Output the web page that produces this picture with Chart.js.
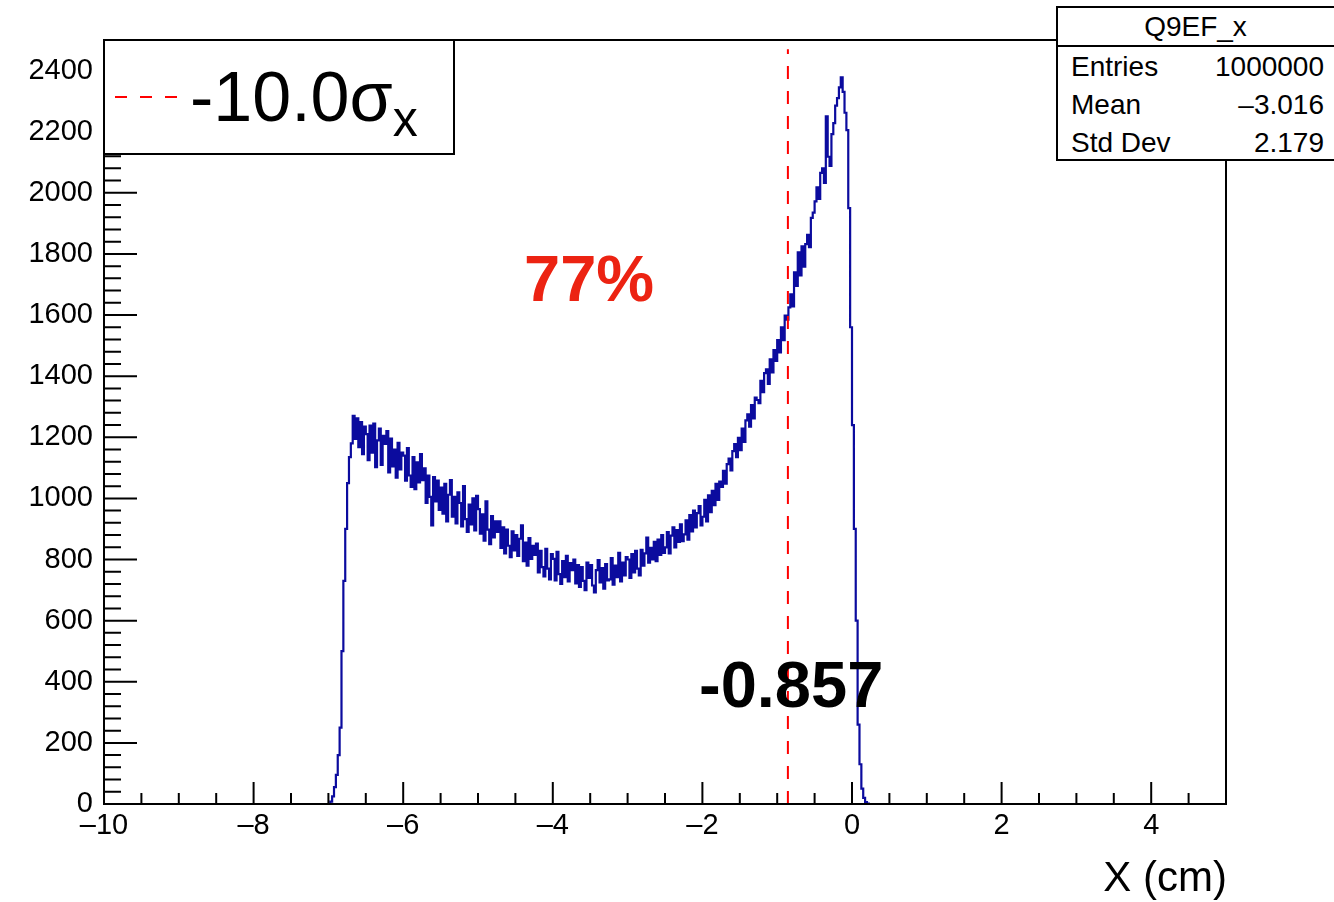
<!DOCTYPE html>
<html lang="en">
<head>
<meta charset="utf-8">
<title>Q9EF_x</title>
<script src="https://cdn.jsdelivr.net/npm/chart.js@4.4.0/dist/chart.umd.min.js"></script>
<style>
body{margin:0;background:#fff;overflow:hidden}
#wrap{position:relative;width:1334px;height:902px;overflow:hidden;font-family:"Liberation Sans",Arial,Helvetica,sans-serif;color:#000}
#chart{position:absolute;left:0;top:0}
.box{position:absolute;background:#fff;border:2px solid #000;box-sizing:border-box}
.t{position:absolute;line-height:1;white-space:nowrap}
#legend{left:103px;top:39px;width:352px;height:116px}
#legDash{position:absolute;left:115px;top:96px;width:64px;height:2px;
  background:repeating-linear-gradient(to right,#ff0000 0 12px,transparent 12px 25px)}
#legText{left:190px;top:62px;font-size:70px}
#legText .sub{font-size:50px;position:relative;top:15px}
#stats{left:1056px;top:6px;width:300px;height:155px}
#statsHead{position:absolute;left:1056px;top:45px;width:300px;height:2px;background:#000}
#pct{left:524px;top:246px;font-size:65px;font-weight:bold;color:#ec2312}
#cutLabel{left:699px;top:652px;font-size:65px;font-weight:bold}
#xTitle{right:107px;top:856px;font-size:42px}
</style>
</head>
<body>
<div id="wrap">
  <canvas id="chart" width="1334" height="902"></canvas>
  <div class="box" id="legend"></div>
  <div id="legDash"></div>
  <div class="t" id="legText"></div>
  <div class="box" id="stats"></div>
  <div id="statsHead"></div>
  <div class="t" id="pct">77%</div>
  <div class="t" id="cutLabel"></div>
  <div class="t" id="xTitle">X (cm)</div>
</div>

<script>
// histogram Q9EF_x : bins of 0.025 cm starting at -7.0 cm, one row = 0.25 cm
const binStart = -7.0;
const binWidth = 0.025;
const counts = [
     2,    8,   25,   55,   95,  160,  250,  500,  730,  900,
  1050, 1135, 1180, 1270, 1195, 1262, 1168, 1250, 1145, 1235,
  1210, 1125, 1238, 1150, 1245, 1102, 1190, 1228, 1110, 1205,
  1178, 1220, 1085, 1196, 1105, 1160, 1068, 1182, 1095, 1150,
  1140, 1058, 1165, 1075, 1038, 1135, 1030, 1118, 1052, 1145,
  1060, 1098,  985, 1075, 1005,  912, 1070,  990, 1058,  962,
  1035,  950, 1048,  925, 1012, 1060,  940, 1005,  918, 1020,
   985,  908, 1040,  932,  890,  980,  915, 1000,  895, 1008,
   965,  885,  948,  862,  990,  898,  850,  942,  872,  925,
   890,  925,  838,  905,  820,  898,  845,  808,  892,  830,
   880,  812,  868,  912,  795,  855,  780,  870,  802,  845,
   815,  852,  758,  828,  775,  745,  835,  770,  735,  818,
   802,  732,  825,  752,  720,  795,  742,  812,  728,  788,
   765,  800,  722,  782,  710,  775,  730,  700,  790,  740,
   782,  715,  692,  765,  798,  725,  772,  705,  785,  732,
   735,  805,  718,  780,  742,  822,  728,  790,  748,  808,
   800,  740,  818,  758,  828,  770,  748,  832,  780,  820,
   872,  790,  838,  800,  858,  795,  865,  815,  880,  822,
   840,  890,  820,  878,  905,  840,  896,  858,  915,  860,
   882,  928,  865,  945,  892,  960,  905,  952,  975,  912,
   940,  995,  925, 1010,  955, 1025,  978, 1048,  995, 1055,
  1038, 1090, 1048, 1112, 1130, 1092, 1155, 1178, 1135, 1198,
  1158, 1228, 1185, 1255, 1275, 1235, 1305, 1262, 1330, 1322,
  1312, 1385, 1348, 1410, 1422, 1375, 1455, 1412, 1485, 1450,
  1518, 1478, 1560, 1518, 1598, 1585, 1625, 1668, 1628, 1740,
  1695, 1805, 1730, 1825, 1758, 1832, 1862, 1822, 1918, 1935,
  1972, 2018, 1980, 2065, 2080, 2032, 2250, 2118, 2088, 2192,
  2228, 2285, 2310, 2345, 2378, 2330, 2262, 2205, 1950, 1560,
  1240,  900,  600,  260,  130,   50,   20,    6,    1,    0
];

// cut position and its height on the plot
const cutX = -0.857;
const cutTop = 2470;
const cutSigma = -10.0;

// stats box
const statTitle = 'Q9EF_x';
const statNames = ['Entries', 'Mean', 'Std Dev'];
const statValues = ['1000000', '\u20133.016', '2.179'];

const dash = s => String(s).replace('-', '\u2013');

const histPoints = counts.map((c, i) => ({ x: binStart + (i + 0.5) * binWidth, y: c }));

/* ROOT style frame: box + ticks pointing inwards */
const rootAxes = {
  id: 'rootAxes',
  afterDatasetsDraw(chart) {
    const { ctx, chartArea: a, scales: { x, y } } = chart;
    ctx.save();
    ctx.strokeStyle = '#000';
    ctx.lineWidth = 2;
    ctx.strokeRect(a.left, a.top, a.right - a.left, a.bottom - a.top);
    ctx.beginPath();
    for (let v = x.min; v <= x.max + 1e-9; v += 0.5) {
      const px = x.getPixelForValue(v);
      const len = Math.abs(v % 2) < 1e-9 ? 22 : 11;
      ctx.moveTo(px, a.bottom);
      ctx.lineTo(px, a.bottom - len);
    }
    for (let v = 0; v <= y.max; v += 40) {
      const py = y.getPixelForValue(v);
      const len = v % 200 === 0 ? 33 : 17;
      ctx.moveTo(a.left, py);
      ctx.lineTo(a.left + len, py);
    }
    ctx.stroke();
    ctx.restore();
  }
};

const tickFont = { family: '"Liberation Sans", Arial, Helvetica, sans-serif', size: 29 };

new Chart(document.getElementById('chart'), {
  type: 'line',
  data: {
    datasets: [
      {
        label: cutSigma.toFixed(1) + '\u03c3x',
        data: [{ x: cutX, y: 0 }, { x: cutX, y: cutTop }],
        borderColor: '#ff0000',
        borderWidth: 2,
        borderDash: [13, 12],
        pointRadius: 0
      },
      {
        label: statTitle,
        data: histPoints,
        borderColor: '#0b0b9e',
        borderWidth: 2.2,
        stepped: 'middle',
        pointRadius: 0
      }
    ]
  },
  options: {
    responsive: false,
    animation: false,
    devicePixelRatio: 1,
    layout: { padding: { top: 40, right: 108, left: 0, bottom: 0 } },
    plugins: { legend: { display: false }, tooltip: { enabled: false } },
    scales: {
      x: {
        type: 'linear', min: -10, max: 5,
        grid: { display: false, drawTicks: false },
        border: { display: false },
        ticks: {
          stepSize: 2, includeBounds: false, color: '#000', font: tickFont,
          padding: 5, maxRotation: 0,
          callback: v => dash(v)
        },
        afterFit: s => { s.height = 98; }
      },
      y: {
        min: 0, max: 2500,
        grid: { display: false, drawTicks: false },
        border: { display: false },
        ticks: {
          stepSize: 200, includeBounds: false, color: '#000', font: tickFont,
          padding: 11,
          callback: v => String(v)
        },
        afterFit: s => { s.width = 104; }
      }
    }
  },
  plugins: [rootAxes]
});

/* overlay texts: legend, stats box, annotations */
const legText = document.getElementById('legText');
legText.innerHTML = cutSigma.toFixed(1) + '\u03c3<span class="sub">x</span>';
document.getElementById('cutLabel').textContent = cutX.toFixed(3);

const wrap = document.getElementById('wrap');
const head = document.createElement('div');
head.className = 't';
head.style.cssText = 'left:1057px;width:277px;text-align:center;top:13px;font-size:28px';
head.textContent = statTitle;
wrap.appendChild(head);
statNames.forEach((name, i) => {
  const top = 53 + i * 38;
  const l = document.createElement('div');
  l.className = 't';
  l.style.cssText = `left:1071px;top:${top}px;font-size:28px`;
  l.textContent = name;
  const r = document.createElement('div');
  r.className = 't';
  r.style.cssText = `right:10px;top:${top}px;font-size:28px`;
  r.textContent = statValues[i];
  wrap.appendChild(l);
  wrap.appendChild(r);
});
</script>
</body>
</html>
